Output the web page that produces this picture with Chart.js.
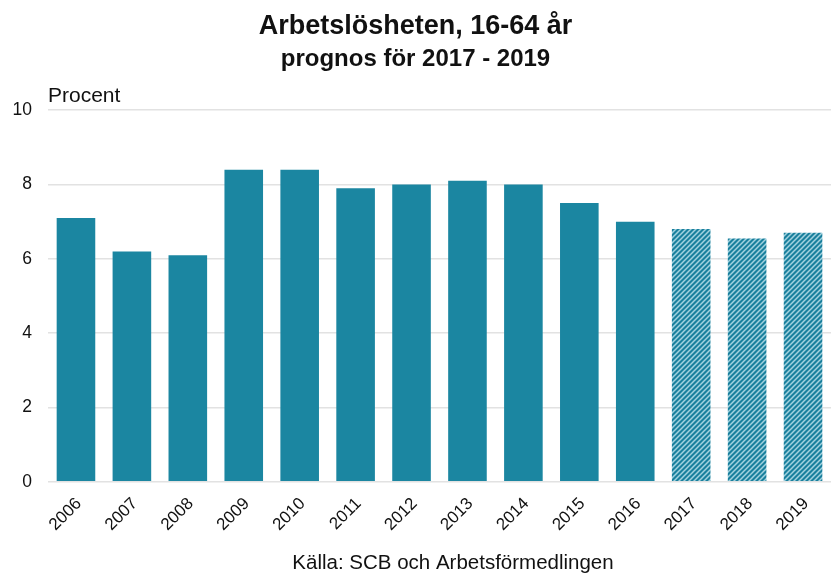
<!DOCTYPE html>
<html><head><meta charset="utf-8">
<script src="https://cdn.jsdelivr.net/npm/chart.js"></script>
<style>html,body{margin:0;padding:0;background:#fff}#w{width:831px;height:573px}</style>
</head><body><div id="w"><canvas id="c"></canvas></div>
<script>
const years = ['2006','2007','2008','2009','2010','2011','2012','2013','2014','2015','2016','2017','2018','2019'];
const unemployment = [7.1, 6.2, 6.1, 8.4, 8.4, 7.9, 8.0, 8.1, 8.0, 7.5, 7.0, 6.8, 6.55, 6.7];
const isForecast = [false,false,false,false,false,false,false,false,false,false,false,true,true,true];
const yTicks = [0, 2, 4, 6, 8, 10];

const FONT = '"Liberation Sans", Arial, sans-serif';

function makePattern() {
  const s = 5;
  const p = document.createElement('canvas');
  p.width = s; p.height = s;
  const g = p.getContext('2d');
  g.fillStyle = '#1a809d';
  g.fillRect(0, 0, s, s);
  g.strokeStyle = '#a3d2df';
  g.lineWidth = 1.5;
  g.beginPath();
  g.moveTo(0, s); g.lineTo(s, 0);
  g.moveTo(-s/2, s/2); g.lineTo(s/2, -s/2);
  g.moveTo(s/2, s*1.5); g.lineTo(s*1.5, s/2);
  g.stroke();
  return document.getElementById('c').getContext('2d').createPattern(p, 'repeat');
}
const pattern = makePattern();
const solid = '#1b86a1';

const extraText = {
  id: 'extraText',
  afterDraw(chart) {
    const ctx = chart.ctx, a = chart.chartArea;
    ctx.save();
    ctx.fillStyle = '#111';
    ctx.font = '21px ' + FONT;
    ctx.textAlign = 'left'; ctx.textBaseline = 'alphabetic';
    ctx.fillText('Procent', a.left, a.top - 8);
    ctx.textAlign = 'center';
    ctx.font = '20.5px ' + FONT;
    ctx.fillText('Källa: SCB och Arbetsförmedlingen', 453, 569);
    ctx.restore();
  }
};

new Chart(document.getElementById('c'), {
  type: 'bar',
  data: {
    labels: years,
    datasets: [{
      data: unemployment,
      backgroundColor: isForecast.map(f => f ? pattern : solid),
      borderWidth: 0,
      categoryPercentage: 1,
      barPercentage: 0.69
    }]
  },
  options: {
    responsive: true,
    maintainAspectRatio: false,
    animation: false,
    layout: { padding: { top: 0, right: 0, left: 0, bottom: 34 } },
    plugins: {
      legend: { display: false },
      tooltip: { enabled: false },
      title: {
        display: true,
        text: 'Arbetslösheten, 16-64 år',
        color: '#111',
        font: { family: FONT, size: 27, weight: 'bold' },
        padding: { top: 10, bottom: 3 }
      },
      subtitle: {
        display: true,
        text: 'prognos för 2017 - 2019',
        color: '#111',
        font: { family: FONT, size: 24, weight: 'bold' },
        padding: { top: 0, bottom: 36 }
      }
    },
    scales: {
      x: {
        grid: { display: false },
        border: { display: false },
        ticks: {
          color: '#111',
          maxRotation: 45, minRotation: 45,
          font: { family: FONT, size: 17 },
          padding: 4,
          labelOffset: 3
        }
      },
      y: {
        min: 0, max: 10,
        afterBuildTicks(axis) { axis.ticks = yTicks.map(v => ({ value: v })); },
        afterFit(axis) { axis.width = 48; },
        grid: { color: '#e2e2e2', lineWidth: 1.5, drawTicks: false },
        border: { display: false },
        ticks: {
          color: '#111',
          padding: 16,
          font: { family: FONT, size: 17.5 }
        }
      }
    }
  },
  plugins: [extraText]
});
</script>
</body></html>
